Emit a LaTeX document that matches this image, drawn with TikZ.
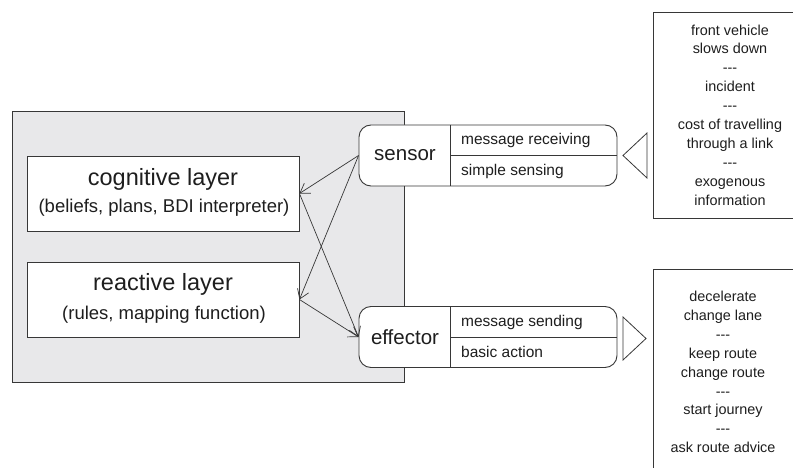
\documentclass[tikz,border=0pt]{standalone}
\usepackage{fontspec}
\setmainfont{Liberation Sans}
\usetikzlibrary{arrows.meta}
\definecolor{agentgray}{RGB}{232,232,234}
\definecolor{linegray}{RGB}{55,55,55}
\definecolor{txt}{RGB}{30,30,30}
\newcommand{\sepline}{-{}-{}-}
\tikzset{
  layerbox/.style={draw=linegray, line width=0.9pt, fill=white, minimum width=272pt, minimum height=75pt, inner sep=0pt},
  iobox/.style={draw=linegray, line width=0.9pt, fill=white, rounded corners=12pt, minimum width=258pt, minimum height=61pt, inner sep=0pt},
  listbox/.style={draw=linegray, line width=0.9pt, fill=white},
  port/.style={draw=linegray, line width=0.8pt, fill=white, line join=miter},
  divider/.style={draw=linegray, line width=0.8pt},
  link/.style={draw=linegray, line width=0.7pt, -{Straight Barb[length=9pt, width=12pt, line width=0.7pt]}},
  big/.style={font=\fontsize{23.5}{28}\selectfont, text=txt},
  sub/.style={font=\fontsize{18.5}{22}\selectfont, text=txt},
  iolabel/.style={font=\fontsize{20.5}{24}\selectfont, text=txt},
  item/.style={font=\fontsize{15.5}{18}\selectfont, text=txt, anchor=west, inner sep=0pt},
  listtext/.style={font=\fontsize{14.4}{18.9}\selectfont, text=txt, align=center, inner sep=0pt},
}
\begin{document}
\begin{tikzpicture}[x=1pt, y=-1pt]
\clip (0,0) rectangle (793,468);
\fill[white] (0,0) rectangle (793,468);

% agent body
\draw[draw=linegray, line width=0.9pt, fill=agentgray] (12,111) rectangle (404,382);

% internal layers
\node[layerbox] (cog) at (163,193.5) {};
\node[big] (cogt) at (163,179) {cognitive layer};
\node[sub] (cogs) at (164,208) {(beliefs, plans, BDI interpreter)};

\node[layerbox] (rea) at (163,299.5) {};
\node[big] (reat) at (163,284) {reactive layer};
\node[sub] (reas) at (164,315) {(rules, mapping function)};

% sensor
\node[iobox] (sensor) at (488,155.5) {};
\draw[divider] (450,125) -- (450,186);
\draw[divider] (450,155.5) -- (617,155.5);
\node[iolabel] (sensort) at (405,155) {sensor};
\node[item] (recv) at (461,140.5) {message receiving};
\node[item] (sens) at (461,171.5) {simple sensing};

% effector
\node[iobox] (effector) at (488,337) {};
\draw[divider] (450,307) -- (450,367);
\draw[divider] (450,337) -- (617,337);
\node[iolabel] (effectort) at (405,337) {effector};
\node[item] (send) at (461,322) {message sending};
\node[item] (act) at (461,352) {basic action};

% ports
\draw[port] (623,155.5) -- (647,133) -- (647,178) -- cycle;
\draw[port] (623,317) -- (646,338.5) -- (623,360) -- cycle;

% perception and action lists
\draw[listbox] (653,12) rectangle (840,218);
\node[listtext] (percepts) at (730,115) {front vehicle\\slows down\\\sepline\\incident\\\sepline\\cost of travelling\\through a link\\\sepline\\exogenous\\information};

\draw[listbox] (653,269) rectangle (840,520);
\node[listtext] (actions) at (723,372) {decelerate\\change lane\\\sepline\\keep route\\change route\\\sepline\\start journey\\\sepline\\ask route advice};

% information flow
\draw[link] (sensor.west) -- (cog.east);
\draw[link] (sensor.west) -- (rea.east);
\draw[link] (cog.east) -- (effector.west);
\draw[link] (rea.east) -- (effector.west);
\end{tikzpicture}
\end{document}
